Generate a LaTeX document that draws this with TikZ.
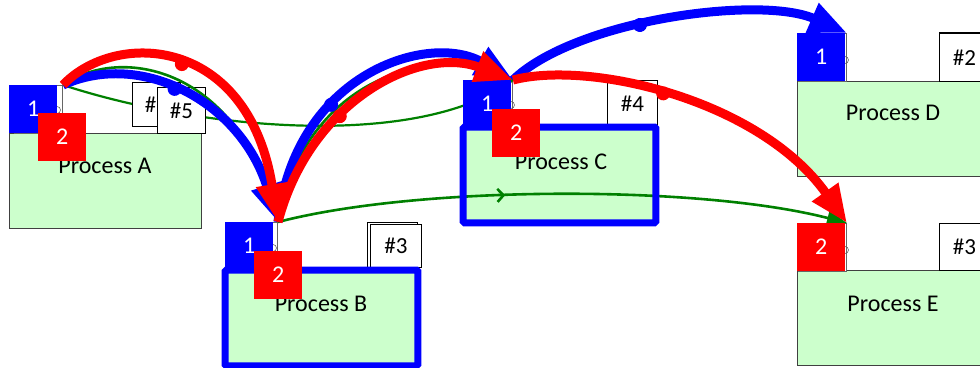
\documentclass[tikz,border=0pt]{standalone}
\usepackage{fontspec}
\setmainfont{Carlito}
\usetikzlibrary{arrows.meta,decorations.markings}
\definecolor{pgreen}{HTML}{CCFFCC}
\definecolor{lgreen}{HTML}{008000}
\definecolor{pblue}{HTML}{0000FF}
\definecolor{pred}{HTML}{FF0000}
\begin{document}
\begin{tikzpicture}[x=1pt,y=-1pt,
  procbox/.style={draw=black!75,line width=0.8pt,fill=pgreen,minimum width=192pt,minimum height=95pt,inner sep=0pt,anchor=north west},
  proctext/.style={font=\fontsize{24}{24}\selectfont,inner sep=0pt},
  hdr/.style={draw=black!60,line width=0.6pt,fill=white,minimum width=48pt,minimum height=48pt,inner sep=0pt,anchor=north east},
  portdot/.style={circle,draw=black!60,line width=0.6pt,minimum size=7pt,inner sep=0pt},
  portone/.style={fill=pblue,text=white,minimum size=48pt,inner sep=0pt,anchor=north west,font=\fontsize{24}{24}\selectfont},
  porttwo/.style={portone,fill=pred},
  tagbox/.style={draw=black,line width=0.9pt,fill=white,minimum width=48pt,minimum height=46pt,inner sep=0pt,anchor=north west,font=\fontsize{23}{23}\selectfont},
  hl/.style={draw=pblue,line width=7pt,rounded corners=1.5pt},
  dotmark/.style={postaction={decorate},decoration={markings,mark=at position 0.4 with {\fill[#1] (0,0) circle (7pt);}}},
  bigblue/.style={draw=pblue,line width=9pt,-{Triangle[length=38pt,width=30pt]},dotmark=pblue},
  bigred/.style={draw=pred,line width=9pt,-{Triangle[length=38pt,width=30pt]},dotmark=pred},
  thingreen/.style={draw=lgreen,line width=2.6pt},
  greenflow/.style={thingreen,-{Triangle[length=20pt,width=15pt]},postaction={decorate},
    decoration={markings,mark=at position 0.4 with {\arrow[lgreen,line width=2.6pt]{Straight Barb[length=6pt,width=13pt]}}}}
]
\useasboundingbox (0,0) rectangle (980,367);
\clip (0,0) rectangle (980,367);

% process boxes
\node[procbox] (A) at (9,133) {};
\node[procbox] (B) at (225,270) {};
\node[procbox] (C) at (463,127) {};
\node[procbox] (D) at (797,81) {};
\node[procbox] (E) at (797,270) {};
\node[proctext] (At) at (105,166) {Process A};
\node[proctext] (Bt) at (321,304) {Process B};
\node[proctext] (Ct) at (561,162) {Process C};
\node[proctext] (Dt) at (893,113) {Process D};
\node[proctext] (Et) at (893,304) {Process E};

% header rectangles behind ports
\node[hdr] (Ah) at (63,85) {};
\node[hdr] (Bh) at (278,222) {};
\node[hdr] (Ch) at (513,80) {};
\node[hdr] (Dh) at (847,33) {};
\node[hdr] (Eh) at (847,223) {};
\node[portdot] (Ad) at (57,110) {};
\node[portdot] (Bd) at (273,248) {};
\node[portdot] (Cd) at (511,105) {};
\node[portdot] (Dd) at (845,60) {};
\node[portdot] (Ed) at (845,250) {};

% green line A -> C (under tags)
\draw[thingreen,line width=2.2pt] (Ah.north east) .. controls (200,130) and (420,150) .. (Ch.north east);

% tag boxes
\node[tagbox,minimum height=44pt] (A5b) at (132,82) {\#5};
\node[tagbox] (A5) at (157,87) {\#5};
\node[tagbox,minimum width=50pt,minimum height=45pt] (B3b) at (367,222) {};
\node[tagbox,minimum width=51pt,minimum height=43pt] (B3) at (370,224) {\#3};
\node[tagbox,minimum width=50pt,minimum height=47pt] (C4) at (607,80) {\#4};
\node[tagbox,minimum width=50pt,minimum height=48pt] (D2) at (939,33) {\#2};
\draw[line width=2pt] (D2.north west) -- (D2.north east);
\node[tagbox,minimum width=50pt,minimum height=47pt] (E3) at (939,223) {\#3};

% green flow B -> E
\draw[greenflow] (Bh.north east) .. controls (420,185) and (700,185) .. (Eh.north east);

% highlight borders
\draw[hl] (B.north west) rectangle (B.south east);
\draw[hl] (C.north west) rectangle (C.south east);

% ports
\node[portone] (A1) at (9,85) {1};
\node[porttwo] (A2) at (38,113) {2};
\node[portone] (B1) at (225,222) {1};
\node[porttwo] (B2) at (254,251) {2};
\node[portone] (C1) at (463,80) {1};
\node[porttwo] (C2) at (492,109) {2};
\node[portone] (D1) at (797,33) {1};
\node[porttwo] (E2) at (797,223) {2};

% green arcs
\draw[thingreen] (Ah.north east) .. controls (120,45) and (240,65) .. (Bh.north east);
\draw[thingreen] (Bh.north east) .. controls (302,85) and (425,38) .. (Ch.north east);

% blue arcs
\draw[bigblue] (Ah.north east) .. controls (140,50) and (240,100) .. (Bh.north east);
\draw[bigblue] (Bh.north east) .. controls (295,72) and (430,32) .. (Ch.north east);
\draw[bigblue] (Ch.north east) .. controls (575,20) and (760,-5) .. (Dh.north east);

% red arcs
\draw[bigred] (Ah.north east) .. controls (115,30) and (248,35) .. (Bh.north east);
\draw[bigred] (Bh.north east) .. controls (310,100) and (420,45) .. (Ch.north east);
\draw[bigred] (Ch.north east) .. controls (590,60) and (760,100) .. (Eh.north east);
\end{tikzpicture}
\end{document}
